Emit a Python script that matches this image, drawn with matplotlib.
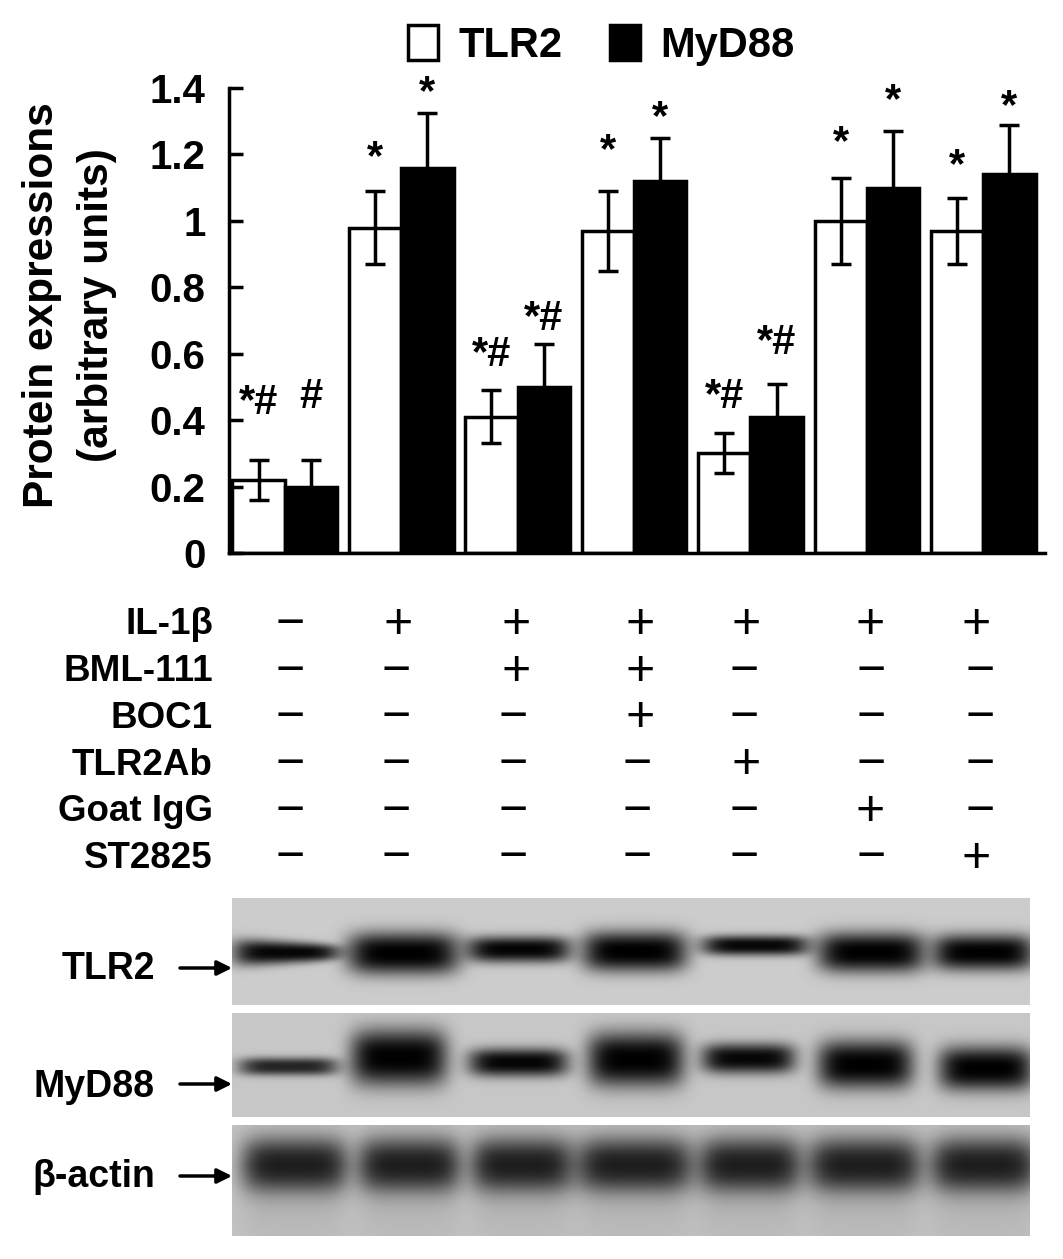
import matplotlib
matplotlib.use("Agg")
import matplotlib.pyplot as plt
from matplotlib.patches import FancyArrowPatch, Rectangle
import numpy as np

W, H = 1063, 1259

plt.rcParams['font.family'] = ['Liberation Sans', 'DejaVu Sans']
plt.rcParams['font.weight'] = 'bold'
plt.rcParams['axes.labelweight'] = 'bold'

tlr2 = [0.22, 0.98, 0.41, 0.97, 0.30, 1.00, 0.97]
myd88 = [0.20, 1.16, 0.50, 1.12, 0.41, 1.10, 1.14]
tlr2_err = [0.06, 0.11, 0.08, 0.12, 0.06, 0.13, 0.10]
myd88_err = [0.08, 0.165, 0.13, 0.13, 0.10, 0.17, 0.15]
tlr2_marks = ['*#', '*', '*#', '*', '*#', '*', '*']
myd88_marks = ['#', '*', '*#', '*', '*#', '*', '*']
# gap between top of error bar and the mark
tlr2_gap = [0.111, 0.039, 0.045, 0.06, 0.05, 0.045, 0.035]
myd88_gap = [0.128, 0.0, 0.015, 0.0, 0.062, 0.03, -0.007]
yticks = [0, 0.2, 0.4, 0.6, 0.8, 1, 1.2, 1.4]

treatments = ['IL-1β', 'BML-111', 'BOC1', 'TLR2Ab', 'Goat IgG', 'ST2825']
signs = [
    ['−', '+', '+', '+', '+', '+', '+'],
    ['−', '−', '+', '+', '−', '−', '−'],
    ['−', '−', '−', '+', '−', '−', '−'],
    ['−', '−', '−', '−', '+', '−', '−'],
    ['−', '−', '−', '−', '−', '+', '−'],
    ['−', '−', '−', '−', '−', '−', '+'],
]
plus_x = [290, 398, 516, 640, 746, 870, 976]
minus_x = [290, 396, 513, 637, 744, 871, 980]

blot_names = ['TLR2', 'MyD88', 'β-actin']
lane_left = [
    [235, 350, 469, 585, 704, 820, 935],
    [241, 353, 471, 590, 704, 820, 941],
    [245, 361, 474, 579, 702, 811, 934],
]
lane_right = [
    [337, 456, 568, 684, 806, 922, 1031],
    [335, 444, 565, 681, 792, 910, 1030],
    [344, 457, 569, 689, 797, 917, 1033],
]
band_mid = [
    [952, 953, 949, 951, 945, 952, 952],
    [1066, 1057, 1062, 1059, 1058, 1064, 1068],
    [1165, 1165, 1165, 1165, 1165, 1165, 1165],
]
band_half = [
    [14, 21, 13, 20, 10, 20, 18],
    [9, 28, 14, 27, 15, 24, 22],
    [26, 26, 26, 26, 26, 26, 26],
]
band_dark = [
    [0.97, 1.0, 0.98, 1.0, 0.97, 1.0, 1.0],
    [0.82, 1.0, 0.98, 1.0, 0.97, 1.0, 1.0],
    [0.78, 0.78, 0.78, 0.78, 0.78, 0.78, 0.78],
]
# right end of the band is this much thinner than the left end
band_taper = [
    [0.55, 1, 1, 1, 1, 1, 1],
    [1, 1, 1, 1, 1, 1, 1],
    [1, 1, 1, 1, 1, 1, 1],
]
blot_back = [0.80, 0.78, 0.76]
panels = [(898, 1005), (1013, 1117), (1125, 1236)]
arrow_y = [968, 1084, 1176]
name_y = [969, 1087, 1177]


def axes_px(x0, y0, x1, y1):
    # pixel box, y measured from the top of the image
    return fig.add_axes([x0 / W, 1 - y1 / H, (x1 - x0) / W, (y1 - y0) / H])


fig = plt.figure(figsize=(W / 100, H / 100), dpi=100)

ax = axes_px(229, 88, 1045, 553)
x = np.arange(len(tlr2))
width = 0.45
ax.bar(x - width / 2, tlr2, width, color='white', edgecolor='black', linewidth=2.5)
ax.bar(x + width / 2, myd88, width, color='black', edgecolor='black', linewidth=2.5)
ax.errorbar(x - width / 2, tlr2, yerr=tlr2_err, fmt='none', ecolor='black',
            elinewidth=2.5, capsize=7.5, capthick=2.5)
ax.errorbar(x + width / 2, myd88, yerr=myd88_err, fmt='none', ecolor='black',
            elinewidth=2.5, capsize=7.5, capthick=2.5)

for i in x:
    ax.text(i - width / 2, tlr2[i] + tlr2_err[i] + tlr2_gap[i], tlr2_marks[i], ha='center',
            va='bottom', fontsize=30, clip_on=False)
    ax.text(i + width / 2, myd88[i] + myd88_err[i] + myd88_gap[i], myd88_marks[i], ha='center',
            va='bottom', fontsize=30, clip_on=False)

ax.set_xlim(-0.48, 6.53)
ax.set_ylim(0, 1.4)
ax.set_yticks(yticks)
ax.set_yticklabels([str(t) for t in yticks], fontsize=29)
ax.set_xticks([])
ax.tick_params(axis='y', direction='in', length=10, width=2.5, pad=17)
ax.spines['top'].set_visible(False)
ax.spines['right'].set_visible(False)
ax.spines['left'].set_linewidth(2.5)
ax.spines['bottom'].set_linewidth(2.5)
ax.set_ylabel('Protein expressions\n(arbitrary units)', fontsize=30.5, linespacing=1.5)
ax.yaxis.set_label_coords(-0.137, 0.533)

fig.legend(handles=[Rectangle((0, 0), 1, 1, fc='white', ec='black', lw=2.5),
                    Rectangle((0, 0), 1, 1, fc='black', ec='black', lw=2.5)],
           labels=['TLR2', 'MyD88'], ncol=2, loc='upper left', bbox_to_anchor=(408 / W, 1 - 25 / H),
           frameon=False, fontsize=30, handlelength=0.72, handleheight=0.9, columnspacing=1.12,
           handletextpad=0.5, borderpad=0, borderaxespad=0)

# treatment table below the bars
for r, name in enumerate(treatments):
    y = 1 - (625 + r * 46.7) / H
    fig.text(213 / W, y, name, ha='right', va='center', fontsize=26.5)
    for c, s in enumerate(signs[r]):
        xp = plus_x[c] if s == '+' else minus_x[c]
        fig.text(xp / W, y, s, ha='center', va='center', fontsize=36, fontweight='normal')

# blot panels
for p, (y0, y1) in enumerate(panels):
    b = axes_px(232, y0, 1030, y1)
    xx, yy = np.meshgrid(np.arange(232, 1030), np.arange(y0, y1))
    img = np.full(xx.shape, blot_back[p], dtype=float)
    for lane in range(7):
        cx = (lane_left[p][lane] + lane_right[p][lane]) / 2
        hw = (lane_right[p][lane] - lane_left[p][lane]) / 2 + 3
        across = np.exp(-np.abs((xx - cx) / hw) ** 5)
        t = np.clip((xx - lane_left[p][lane]) / (2 * hw), 0, 1)
        half = band_half[p][lane] * (1 + (band_taper[p][lane] - 1) * t)
        down = np.exp(-np.abs((yy - band_mid[p][lane]) / half) ** 2.6)
        img = img * (1 - band_dark[p][lane] * across * down)
        if p == 2:
            # actin smears downward
            smear = np.exp(-np.clip(yy - band_mid[p][lane], 0, None) / 32.0)
            smear = smear * np.exp(-np.clip(band_mid[p][lane] - yy, 0, None) / 20.0)
            img = img * (1 - 0.32 * across * smear)
    b.imshow(img, cmap='gray', vmin=0, vmax=1, aspect='auto', interpolation='bilinear')
    b.axis('off')
    fig.text(155 / W, 1 - name_y[p] / H, blot_names[p], ha='right', va='center', fontsize=27)
    fig.add_artist(FancyArrowPatch((180 / W, 1 - arrow_y[p] / H), (232 / W, 1 - arrow_y[p] / H),
                                   transform=fig.transFigure, arrowstyle='-|>', mutation_scale=22,
                                   lw=2.5, color='black', shrinkA=0, shrinkB=0))

plt.savefig('out.png', dpi=100)
